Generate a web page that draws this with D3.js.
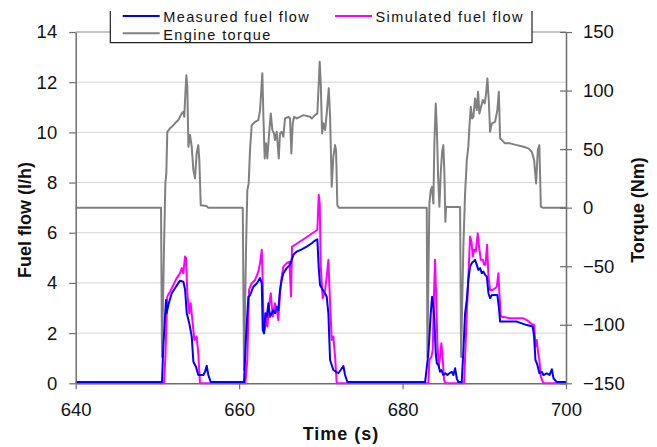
<!DOCTYPE html>
<html>
<head>
<meta charset="utf-8">
<script src="https://cdn.jsdelivr.net/npm/d3@7"></script>
<style>
  html, body { margin: 0; padding: 0; background: #fff; }
  svg { display: block; font-family: "Liberation Sans", Arial, sans-serif; }
</style>
</head>
<body>
<svg id="chart" width="657" height="447"></svg>
<script>
// ---------- data ----------
const xTicks = [640, 660, 680, 700];
const fuelTicks = [0, 2, 4, 6, 8, 10, 12, 14];
const torqueTicks = [-150, -100, -50, 0, 50, 100, 150];
const seriesNames = ["Measured fuel flow", "Simulated fuel flow", "Engine torque"];

const measuredTime = [640, 650.56, 650.72, 651.05, 651.13, 651.34, 651.75, 652.15, 652.56, 652.77, 653.17, 653.38, 653.59, 653.9, 654.2, 654.4, 654.72, 655.0, 655.62, 655.83, 656.03, 656.23, 656.52,
  660.6, 660.84, 661.13, 661.33, 661.74, 662.15, 662.56, 662.77, 662.89, 663.05, 663.21, 663.38, 663.58, 663.78, 663.99, 664.19, 664.39, 664.6, 664.8, 665.0, 665.21, 665.41, 665.83, 666.23, 666.64, 667.05, 667.66, 668.27, 668.88, 669.29, 669.57, 669.74, 669.9, 670.23, 670.52, 670.72, 670.92, 671.13, 671.33, 671.53, 671.86, 672.14, 672.43, 672.76, 672.96, 673.25,
  682.76, 683.16, 683.45, 683.61, 683.77, 683.89, 684.06, 684.19, 684.39, 684.59, 684.75, 684.99, 685.24, 685.48, 685.73, 686.02, 686.22, 686.43, 686.63, 686.83, 687.24, 687.44, 687.65, 687.86, 688.05, 688.26, 688.47, 688.67, 688.87, 689.08, 689.28, 689.49, 689.69, 689.9, 690.1, 690.31, 690.51, 690.71, 690.92, 691.12, 691.6, 691.78, 691.94, 692.34, 693.16, 693.98, 694.59, 695.2, 695.93, 696.1, 696.26, 696.5, 696.74, 697.04, 697.24, 697.65, 697.98, 698.27, 698.47, 698.88, 700];
const measuredFuel = [0.05, 0.05, 1.46, 3.32, 2.8, 3.12, 3.59, 3.79, 3.99, 4.09, 4.05, 3.75, 2.79, 2.39, 1.86, 0.86, 0.66, 0.33, 0.33, 0.46, 0.7, 0.33, 0.05,
  0.05, 1.86, 3.45, 3.5, 3.85, 3.98, 4.19, 3.98, 2.13, 1.99, 2.79, 2.65, 3.19, 2.65, 2.79, 2.92, 2.79, 3.05, 2.92, 3.72, 4.12, 4.39, 4.59, 4.72, 5.12, 5.25, 5.34, 5.45, 5.58, 5.69, 5.74, 4.6, 3.92, 3.72, 3.59, 3.45, 2.79, 0.93, 0.73, 0.53, 0.46, 0.4, 0.53, 0.69, 0.33, 0.05,
  0.05, 1.2, 2.79, 3.45, 3.05, 2.52, 1.2, 0.8, 0.73, 0.46, 0.53, 0.33, 0.4, 0.33, 0.4, 0.46, 0.33, 0.6, 0.2, 0.05, 0.05, 1.3, 2.79, 3.32, 4.12, 4.65, 4.79, 4.85, 4.92, 4.72, 4.52, 4.59, 4.39, 4.45, 4.32, 4.25, 3.59, 3.39, 3.52, 3.52, 3.52, 3.05, 2.46, 2.46, 2.46, 2.46, 2.39, 2.32, 2.26, 1.86, 0.93, 0.73, 0.4, 0.46, 0.33, 0.4, 0.33, 0.56, 0.2, 0.05, 0.05];

const simulatedTime = [640, 650.81, 650.97, 651.21, 651.54, 651.95, 652.36, 652.77, 652.97, 653.17, 653.38, 653.5, 653.66, 653.9, 654.07, 654.32, 654.52, 654.8, 655.0, 655.21,
  660.76, 661.0, 661.21, 661.54, 661.95, 662.35, 662.56, 662.77, 662.89, 662.97, 663.13, 663.29, 663.45, 663.7, 663.87, 664.11, 664.39, 664.6, 664.8, 665.0, 665.21, 665.41, 665.83, 666.15, 666.35, 666.47, 666.84, 667.45, 668.07, 668.68, 669.29, 669.57, 669.74, 669.86, 669.99, 670.23, 670.52, 670.72, 670.92, 671.13, 671.33, 671.53, 671.74, 671.94,
  683.16, 683.28, 683.53, 683.69, 683.85, 683.97, 684.1, 684.26, 684.43, 684.59, 684.75, 684.92, 685.08, 685.24, 687.53, 687.69, 687.86, 688.05, 688.26, 688.43, 688.59, 688.75, 688.96, 689.2, 689.36, 689.57, 689.82, 689.98, 690.14, 690.34, 690.51, 690.71, 691.04, 691.32, 691.53, 691.73, 691.85, 692.02, 693.16, 694.79, 695.2, 695.69, 696.1, 696.26, 696.42, 696.59, 696.74, 696.92, 697.24, 700];
const simulatedFuel = [0, 0, 1.0, 3.46, 3.65, 3.92, 4.19, 4.39, 4.59, 4.39, 5.05, 4.99, 3.59, 2.79, 3.19, 2.39, 1.73, 1.86, 1.2, 0,
  0, 0.93, 3.72, 3.99, 4.12, 4.45, 4.79, 5.32, 3.99, 2.52, 2.13, 2.66, 2.26, 3.19, 3.59, 2.66, 3.19, 2.92, 2.52, 3.59, 4.25, 4.65, 4.79, 4.85, 3.46, 5.45, 5.52, 5.65, 5.78, 5.92, 6.05, 6.12, 7.51, 7.18, 4.65, 3.39, 3.72, 4.25, 4.92, 3.19, 1.73, 1.86, 1.06, 0,
  0, 0.93, 1.06, 1.33, 3.59, 4.92, 3.59, 1.6, 0.66, 1.06, 1.6, 0.93, 0.13, 0, 0, 1.33, 2.79, 4.25, 5.85, 5.65, 5.05, 5.32, 5.25, 5.98, 5.45, 4.92, 4.92, 4.72, 4.72, 5.52, 4.25, 3.72, 3.72, 3.79, 3.85, 4.39, 3.59, 2.66, 2.59, 2.59, 2.52, 2.39, 2.32, 1.46, 1.73, 1.2, 0.93, 0.26, 0, 0];

const torqueTime = [640, 650.44, 650.56, 650.81, 650.97, 651.09, 651.21, 651.54, 651.75, 652.15, 652.56, 652.97, 653.17, 653.29, 653.42, 653.54, 653.66, 653.79, 653.99, 654.2, 654.4, 654.6, 654.8, 655.0, 655.13, 655.3, 656.0, 656.2,
  660.44, 660.6, 660.84, 661.0, 661.17, 661.33, 661.54, 661.95, 662.35, 662.56, 662.84, 662.97, 663.13, 663.29, 663.45, 663.7, 663.87, 664.07, 664.27, 664.39, 664.6, 664.85, 665.0, 665.21, 665.41, 665.62, 666.02, 666.23, 666.39, 666.56, 666.72, 667.05, 667.45, 667.86, 668.68, 668.88, 669.29, 669.57, 669.74, 669.86, 669.99, 670.15, 670.31, 670.52, 670.72, 670.97, 671.13, 671.33, 671.53, 671.74, 671.86, 672.02, 672.2,
  682.96, 683.04, 683.28, 683.45, 683.61, 683.77, 683.89, 684.06, 684.19, 684.35, 684.51, 684.67, 684.84, 684.99, 685.12, 685.24, 685.32, 685.6, 687.04, 687.16, 687.44, 687.65, 687.86, 688.05, 688.18, 688.35, 688.51, 688.67, 688.87, 689.08, 689.24, 689.4, 689.61, 689.82, 690.06, 690.22, 690.38, 690.55, 690.71, 690.92, 691.32, 691.6, 691.78, 691.94, 692.15, 692.55, 693.16, 693.98, 694.79, 695.4, 695.81, 696.1, 696.34, 696.55, 696.74, 696.92, 697.16, 700];
const torqueValue = [0, 0, -127.5, -33.5, 20.7, 29.2, 64.8, 67.7, 69, 72, 74.8, 80.5, 81.9, 77.6, 97.6, 113, 103, 52, 62, 52, 32, 25, 46.3, 53.4, 40.6, 2.1, 1.5, 0,
  0, -138.9, -36.3, 15, 20.7, 49, 70.5, 73.3, 74.8, 83.3, 114.7, 77.6, 42, 54.9, 42, 66.2, 80.5, 66.2, 63.4, 57.7, 64.8, 42, 63.4, 64.8, 60.5, 76.2, 77.6, 76.2, 46.3, 72, 77.6, 76.2, 77.6, 79, 77.6, 76.2, 79, 80.5, 106, 124.6, 106, 63.4, 72, 66.2, 80.5, 101.9, 77.6, 17.8, 43.4, 53.4, 49, 2, 0,
  0, -127.5, 3.6, 15, 17.8, 3.6, 54.9, 89, 69, 26.3, 0.7, 29.2, 47.7, 53.4, 29.2, -12.1, 0.7, 0.5, 0.5, -127.5, -33.5, 12.1, 40.6, 52, 69, 86.2, 76.2, 77.6, 93.3, 83.3, 99, 80.5, 86.2, 91.9, 89, 97.6, 110.4, 91.9, 64.8, 72, 73.3, 83.3, 99, 59.1, 57.7, 54.9, 54.9, 53.4, 52, 50.6, 47.7, 40.6, 20.7, 49, 53.4, 0.7, 0, 0];

// ---------- layout ----------
const L = 75.7, R = 566, T = 32, B = 383.3;
const svg = d3.select("#chart");
const x = d3.scaleLinear().domain([640, 700]).range([L, R]);
const yF = d3.scaleLinear().domain([0, 14]).range([B, T]);
const yT = d3.scaleLinear().domain([-150, 150]).range([B, T]);
const axisColor = "#6e6e6e";
const textColor = "#111";

// gridlines
svg.append("g").selectAll("line")
  .data(fuelTicks.filter(d => d > 0 && d < 14))
  .join("line")
  .attr("x1", L).attr("x2", R)
  .attr("y1", d => yF(d)).attr("y2", d => yF(d))
  .attr("stroke", "#d4d4d4").attr("stroke-width", 1);
// top border
svg.append("line").attr("x1", L).attr("x2", R).attr("y1", yF(14)).attr("y2", yF(14))
  .attr("stroke", "#8a8a8a").attr("stroke-width", 1.2);

// lines
const lineGen = d3.line().x(d => x(d[0]));
function drawSeries(times, vals, yScale, color) {
  const pts = times.map((t, i) => [t, vals[i]]);
  svg.append("path")
    .attr("d", lineGen.y(d => yScale(d[1]))(pts))
    .attr("fill", "none").attr("stroke", color)
    .attr("stroke-width", 2).attr("stroke-linejoin", "round");
}
drawSeries(torqueTime, torqueValue, yT, "#808080");
drawSeries(simulatedTime, simulatedFuel, yF, "#ff00ff");
drawSeries(measuredTime, measuredFuel, yF, "#0000ff");

// axes
function styleAxis(g) {
  g.selectAll(".domain").attr("stroke", axisColor).attr("stroke-width", 1.5);
  g.selectAll(".tick line").attr("stroke", axisColor).attr("stroke-width", 1.2);
  g.selectAll(".tick text").attr("fill", textColor)
    .style("font-size", "18.5px").style("font-family", "'Liberation Sans', Arial, sans-serif");
}
const gx = svg.append("g").attr("transform", `translate(0,${B})`)
  .call(d3.axisBottom(x).tickValues(xTicks).tickFormat(d3.format("d")).tickSize(6).tickSizeOuter(0).tickPadding(14));
styleAxis(gx);
const gl = svg.append("g").attr("transform", `translate(${L},0)`)
  .call(d3.axisLeft(yF).tickValues(fuelTicks).tickFormat(d3.format("d")).tickSize(6.5).tickSizeOuter(0).tickPadding(12));
styleAxis(gl);
const gr = svg.append("g").attr("transform", `translate(${R},0)`)
  .call(d3.axisRight(yT).tickValues(torqueTicks).tickFormat(d3.format("d")).tickSize(6).tickSizeOuter(0).tickPadding(11));
styleAxis(gr);
gr.selectAll(".tick line").attr("x1", -6).attr("x2", 6);

// axis titles
svg.append("text").attr("x", 341).attr("y", 440).attr("text-anchor", "middle")
  .style("font-size", "18px").style("font-weight", "bold").style("letter-spacing", "1px")
  .attr("fill", textColor).text("Time (s)");
svg.append("text").attr("transform", "translate(31,220) rotate(-90)").attr("text-anchor", "middle")
  .style("font-size", "18px").style("font-weight", "bold")
  .attr("fill", textColor).text("Fuel flow (l/h)");
svg.append("text").attr("transform", "translate(644,210) rotate(-90)").attr("text-anchor", "middle")
  .style("font-size", "18px").style("font-weight", "bold")
  .attr("fill", textColor).text("Torque (Nm)");

// legend
const lg = svg.append("g");
lg.append("rect").attr("x", 110.3).attr("y", 0).attr("width", 532 - 110.3).attr("height", 42.7).attr("fill", "#fff");
lg.append("path").attr("d", "M110.3,11V42.7H532V11").attr("fill", "none").attr("stroke", "#222").attr("stroke-width", 1.2);
const legendItems = [
  { name: seriesNames[0], color: "#0000ff", lx: 122.7, ly: 16 },
  { name: seriesNames[1], color: "#ff00ff", lx: 335, ly: 16 },
  { name: seriesNames[2], color: "#808080", lx: 122.7, ly: 33.3 }
];
legendItems.forEach(it => {
  lg.append("line").attr("x1", it.lx).attr("x2", it.lx + 37).attr("y1", it.ly).attr("y2", it.ly)
    .attr("stroke", it.color).attr("stroke-width", 2);
  lg.append("text").attr("x", it.lx + 40.5).attr("y", it.ly + 6.3)
    .style("font-size", "14.5px").style("letter-spacing", "1.4px")
    .attr("fill", textColor).text(it.name);
});
</script>
</body>
</html>
